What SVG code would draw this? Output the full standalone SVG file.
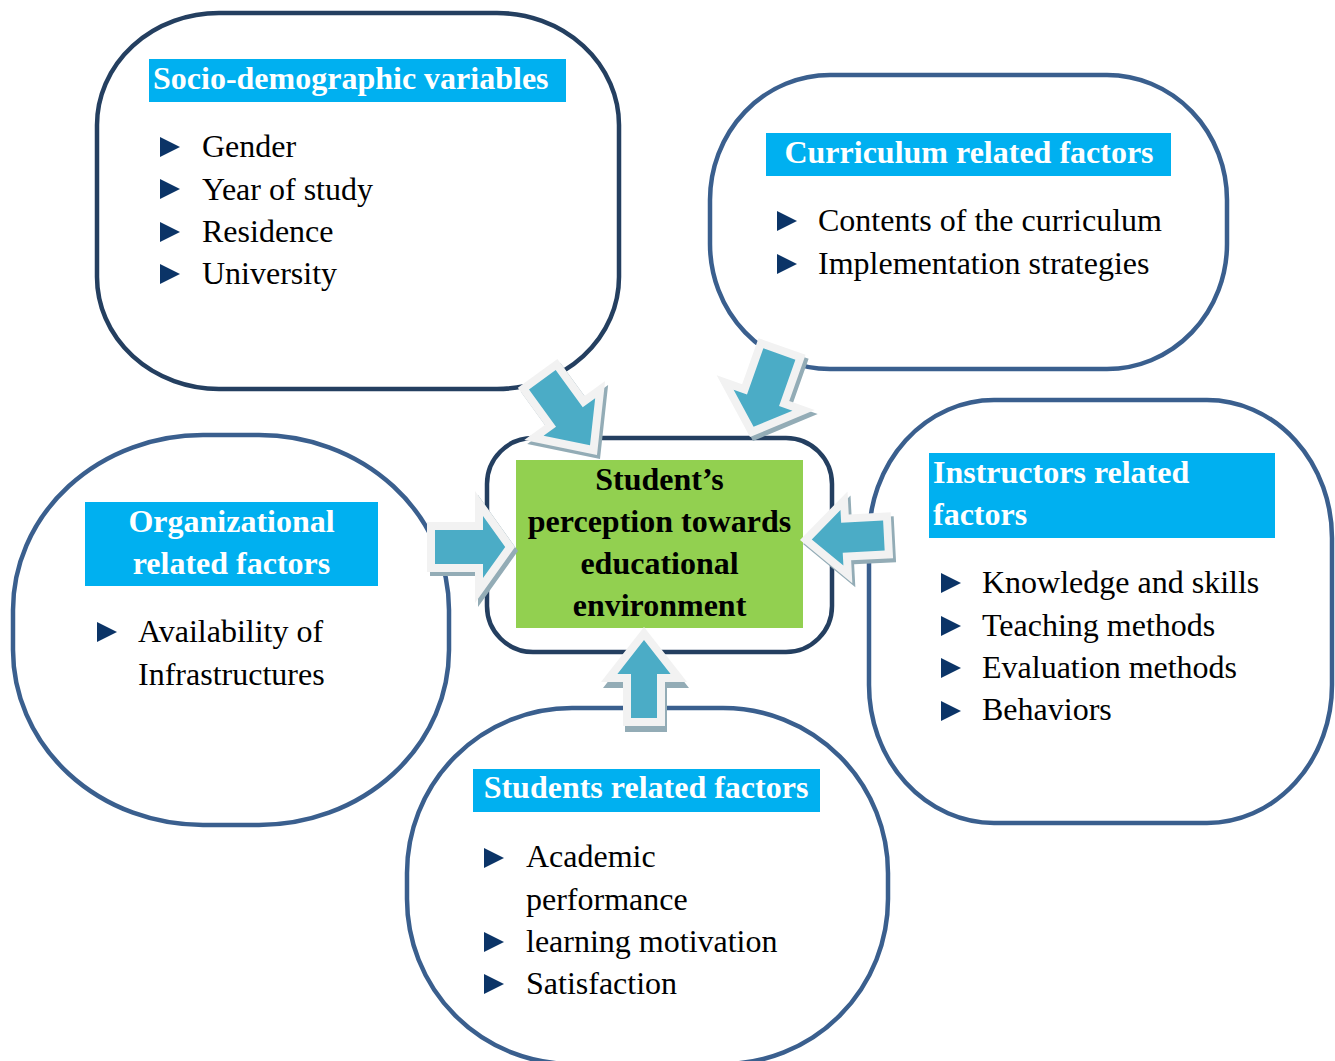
<svg xmlns="http://www.w3.org/2000/svg" width="1335" height="1061" viewBox="0 0 1335 1061">
<style>
.box{fill:#FFFFFF;stroke:#3A5F8E;stroke-width:4.5}
.dark{stroke:#243F60}
.labbg{fill:#00B0F0}
.lab{font-family:"Liberation Serif","Times New Roman",serif;font-size:32px;font-weight:bold;fill:#FFFFFF}
.txt{font-family:"Liberation Serif","Times New Roman",serif;font-size:32px;fill:#000000}
.ctr{font-family:"Liberation Serif","Times New Roman",serif;font-size:32px;font-weight:bold;fill:#000000}
.bul{fill:#0B3467}
.ao{fill:#F2F2F2}
.ai{fill:#4BACC6}
.as{fill:#93ACB6}
</style>
<defs>
<polygon id="b" points="0,-10 20,0 0,10"/>
</defs>
<rect width="1335" height="1061" fill="#FFFFFF"/>

<g id="socio">
<rect class="box dark" x="97" y="13" width="522" height="376" rx="122" ry="112"/>
<rect class="labbg" x="149" y="59" width="417" height="43"/>
<text class="lab" x="153" y="89">Socio-demographic variables</text>
<use href="#b" class="bul" x="160" y="147"/>
<use href="#b" class="bul" x="160" y="189"/>
<use href="#b" class="bul" x="160" y="232"/>
<use href="#b" class="bul" x="160" y="274"/>
<text class="txt" x="202" y="157">Gender</text>
<text class="txt" x="202" y="200">Year of study</text>
<text class="txt" x="202" y="242">Residence</text>
<text class="txt" x="202" y="284">University</text>
</g>

<g id="curriculum">
<rect class="box" x="710" y="75" width="517" height="294" rx="120" ry="125"/>
<rect class="labbg" x="766" y="133" width="405" height="43"/>
<text class="lab" x="969" y="163" text-anchor="middle">Curriculum related factors</text>
<use href="#b" class="bul" x="777" y="221"/>
<use href="#b" class="bul" x="777" y="264"/>
<text class="txt" x="818" y="231">Contents of the curriculum</text>
<text class="txt" x="818" y="274">Implementation strategies</text>
</g>

<g id="organizational">
<rect class="box" x="13" y="435" width="436" height="390" rx="190" ry="175"/>
<rect class="labbg" x="85" y="502" width="293" height="84"/>
<text class="lab" x="231.5" y="532" text-anchor="middle">Organizational</text>
<text class="lab" x="231.5" y="574" text-anchor="middle">related factors</text>
<use href="#b" class="bul" x="97" y="632"/>
<text class="txt" x="138" y="642">Availability of</text>
<text class="txt" x="138" y="685">Infrastructures</text>
</g>

<g id="instructors">
<rect class="box" x="869" y="400" width="463" height="423" rx="125" ry="138"/>
<rect class="labbg" x="929" y="453" width="346" height="85"/>
<text class="lab" x="933" y="483">Instructors related</text>
<text class="lab" x="933" y="525">factors</text>
<use href="#b" class="bul" x="941" y="583"/>
<use href="#b" class="bul" x="941" y="626"/>
<use href="#b" class="bul" x="941" y="668"/>
<use href="#b" class="bul" x="941" y="711"/>
<text class="txt" x="982" y="593">Knowledge and skills</text>
<text class="txt" x="982" y="636">Teaching methods</text>
<text class="txt" x="982" y="678">Evaluation methods</text>
<text class="txt" x="982" y="720">Behaviors</text>
</g>

<g id="students">
<rect class="box" x="407" y="708" width="481" height="356" rx="165" ry="165"/>
<rect class="labbg" x="473" y="769" width="347" height="43"/>
<text class="lab" x="646" y="798" text-anchor="middle">Students related factors</text>
<use href="#b" class="bul" x="484" y="858"/>
<use href="#b" class="bul" x="484" y="942"/>
<use href="#b" class="bul" x="484" y="984"/>
<text class="txt" x="526" y="867">Academic</text>
<text class="txt" x="526" y="910">performance</text>
<text class="txt" x="526" y="952">learning motivation</text>
<text class="txt" x="526" y="994">Satisfaction</text>
</g>

<g id="center">
<rect class="box dark" x="487" y="438" width="345" height="214" rx="46" ry="46"/>
<rect x="516" y="460" width="287" height="168" fill="#92D050"/>
<text class="ctr" x="659.5" y="490" text-anchor="middle">Student’s</text>
<text class="ctr" x="659.5" y="532" text-anchor="middle">perception towards</text>
<text class="ctr" x="659.5" y="574" text-anchor="middle">educational</text>
<text class="ctr" x="659.5" y="616" text-anchor="middle">environment</text>
</g>

<g id="connectors">
<!-- socio -> center -->
<g>
<polygon class="as" transform="translate(600,459) rotate(54)" points="0,0 -55,-50 -55,-24.5 -101,-24.5 -101,24.5 -55,24.5 -55,50"/>
<g transform="translate(597,455) rotate(54)">
<polygon class="ao" points="0,0 -55,-50 -55,-24.5 -101,-24.5 -101,24.5 -55,24.5 -55,50"/>
<polygon class="ai" points="-11.9,0 -47,-31.9 -47,-16.5 -93,-16.5 -93,16.5 -47,16.5 -47,31.9"/>
</g>
</g>
<!-- curriculum -> center -->
<g>
<polygon class="as" transform="translate(753,441) rotate(109.5)" points="0,0 -47,-52 -47,-25 -96,-25 -96,25 -47,25 -47,52"/>
<g transform="translate(750,437) rotate(109.5)">
<polygon class="ao" points="0,0 -47,-52 -47,-25 -96,-25 -96,25 -47,25 -47,52"/>
<polygon class="ai" points="-10.8,0 -39,-31.2 -39,-17 -88,-17 -88,17 -39,17 -39,31.2"/>
</g>
</g>
<!-- organizational -> center -->
<g>
<polygon class="as" transform="translate(518,551)" points="0,0 -40,-56 -40,-25 -88,-25 -88,25 -40,25 -40,56"/>
<g transform="translate(515,547)">
<polygon class="ao" points="0,0 -40,-56 -40,-25 -88,-25 -88,25 -40,25 -40,56"/>
<polygon class="ai" points="-9.8,0 -32,-31 -32,-17 -80,-17 -80,17 -32,17 -32,31"/>
</g>
</g>
<!-- instructors -> center -->
<g>
<polygon class="as" transform="translate(803,544) rotate(177)" points="0,0 -50,-46 -50,-23 -92,-23 -92,23 -50,23 -50,46"/>
<g transform="translate(800,540) rotate(177)">
<polygon class="ao" points="0,0 -50,-46 -50,-23 -92,-23 -92,23 -50,23 -50,46"/>
<polygon class="ai" points="-11.8,0 -42,-27.8 -42,-15 -84,-15 -84,15 -42,15 -42,27.8"/>
</g>
</g>
<!-- students -> center -->
<g>
<polygon class="as" transform="translate(646,633) rotate(-90)" points="0,0 -55,-43 -55,-21 -99,-21 -99,21 -55,21 -55,43"/>
<g transform="translate(644,627) rotate(-90)">
<polygon class="ao" points="0,0 -55,-43 -55,-21 -99,-21 -99,21 -55,21 -55,43"/>
<polygon class="ai" points="-13,0 -47,-26.6 -47,-13 -91,-13 -91,13 -47,13 -47,26.6"/>
</g>
</g>
</g>
</svg>
